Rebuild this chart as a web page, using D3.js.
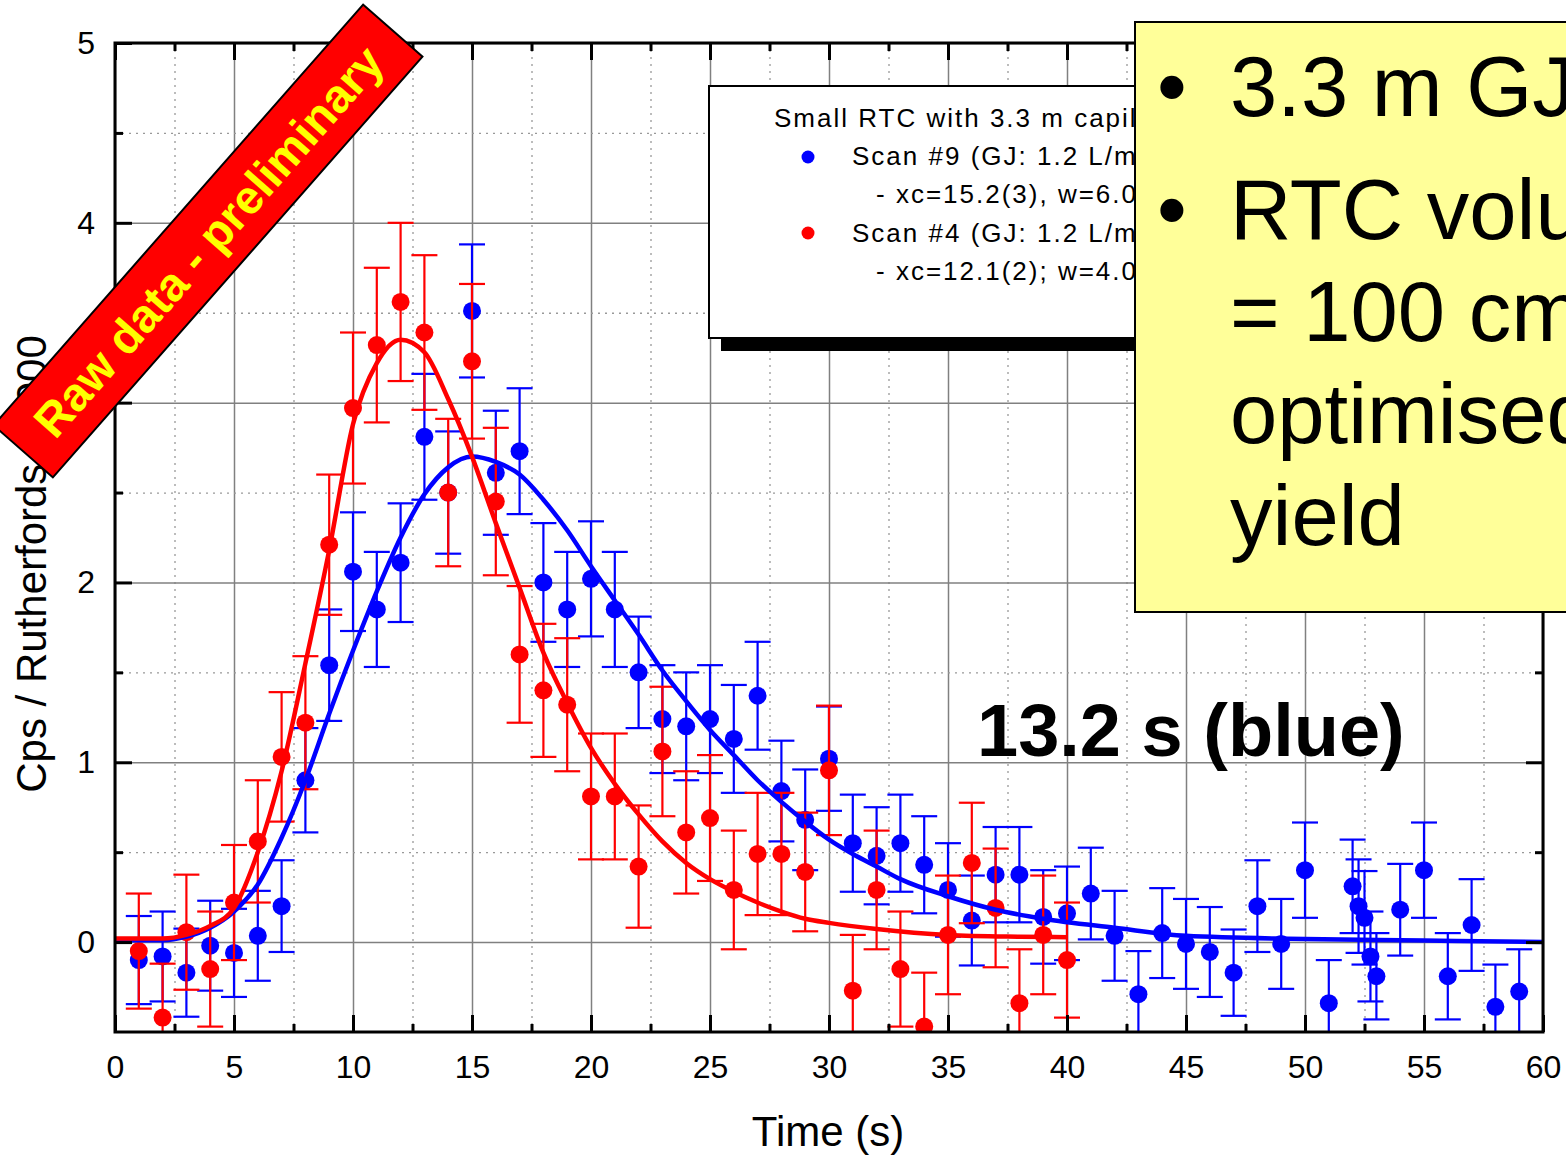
<!DOCTYPE html>
<html>
<head>
<meta charset="utf-8">
<script src="https://cdn.jsdelivr.net/npm/d3@7"></script>
<style>
  body { margin: 0; background: #fff; }
  svg { display: block; font-family: "Liberation Sans", Arial, Helvetica, sans-serif; }
</style>
</head>
<body>
<div id="viz"></div>
<script>
// Scan #9 (blue) - time, counts, error
var blueX = [1,2,3,4,5,6,7,8,9,10,11,12,13,14,15,16,17,18,19,20,21,22,23,24,25,26,27,28,29,30,
  31,32,33,34,35,36,37,38,39,40,41,42,43,44,45,46,47,48,49,50,51,52,52.25,52.5,52.75,53,54,55,56,57,58,59];
var blueY = [-0.10,-0.08,-0.17,-0.02,-0.06,0.035,0.20,0.90,1.54,2.06,1.85,2.11,2.81,2.50,3.51,2.61,2.73,2.00,1.85,2.02,
  1.85,1.50,1.24,1.20,1.24,1.13,1.37,0.84,0.68,1.02,0.55,0.48,0.55,0.43,0.29,0.12,0.375,0.375,0.14,0.16,
  0.27,0.035,-0.29,0.05,-0.01,-0.055,-0.17,0.20,-0.01,0.40,-0.34,0.31,0.20,0.135,-0.08,-0.19,0.18,0.40,-0.19,0.095,-0.36,-0.275];
var blueErr = [0.245,0.25,0.245,0.25,0.245,0.25,0.255,0.29,0.31,0.33,0.32,0.33,0.35,0.34,0.37,0.345,0.35,0.33,0.32,0.32,
  0.32,0.31,0.30,0.30,0.30,0.30,0.30,0.28,0.28,0.29,0.27,0.27,0.27,0.27,0.26,0.25,0.265,0.265,0.26,0.26,
  0.255,0.25,0.24,0.25,0.25,0.25,0.24,0.255,0.25,0.265,0.24,0.26,0.26,0.26,0.25,0.24,0.255,0.265,0.24,0.255,0.235,0.235];

// Scan #4 (red)
var redX = [1,2,3,4,5,6,7,8,9,10,11,12,13,14,15,16,17,18,19,20,21,22,23,24,25,26,27,28,29,30,31,32,33,34,35,36,37,38,39,40];
var redY = [-0.05,-0.42,0.055,-0.15,0.22,0.56,1.03,1.22,2.21,2.97,3.32,3.56,3.39,2.50,3.23,2.45,1.60,1.40,1.32,0.81,
  0.81,0.42,1.06,0.61,0.69,0.29,0.49,0.49,0.39,0.955,-0.27,0.29,-0.15,-0.47,0.04,0.44,0.19,-0.34,0.04,-0.10];
var redErr = [0.32,0.30,0.32,0.32,0.32,0.34,0.36,0.37,0.39,0.42,0.43,0.44,0.43,0.41,0.43,0.41,0.38,0.37,0.37,0.35,
  0.35,0.34,0.36,0.34,0.35,0.33,0.34,0.34,0.33,0.36,0.31,0.33,0.32,0.30,0.33,0.335,0.33,0.30,0.33,0.32];

// fitted curves
var blueFitX = [0,2,3,4,5,6,7,8,9,10,11,12,13,14,15,16,17,18,19,20,21,22,23,24,25,26,27,28,29,30,31,32,33,35,37,39,42,45,50,55,60];
var blueFitY = [0.01,0.01,0.03,0.08,0.17,0.32,0.58,0.90,1.27,1.62,1.95,2.25,2.49,2.64,2.70,2.67,2.60,2.46,2.29,2.09,
  1.90,1.71,1.51,1.34,1.18,1.04,0.90,0.78,0.67,0.57,0.49,0.42,0.35,0.255,0.18,0.13,0.08,0.035,0.017,0.009,0.0];
var redFitX = [0,2,3,4,5,6,7,8,9,10,11,12,13,14,15,16,17,18,19,20,21,22,23,24,25,26,27,28,29,30,32,35,38,40];
var redFitY = [0.02,0.02,0.04,0.09,0.19,0.50,0.95,1.55,2.18,2.88,3.22,3.35,3.28,3.02,2.70,2.33,1.97,1.61,1.33,1.08,
  0.88,0.71,0.56,0.44,0.35,0.28,0.22,0.17,0.13,0.107,0.073,0.04,0.03,0.027];

var xMajor = [0,5,10,15,20,25,30,35,40,45,50,55,60];
var xMinor = [2.5,7.5,12.5,17.5,22.5,27.5,32.5,37.5,42.5,47.5,52.5,57.5];
var yMajor = [0,1,2,3,4,5];
var yMinor = [0.5,1.5,2.5,3.5,4.5];

var legendLines = ["Small RTC with 3.3 m capillary", "Scan #9 (GJ: 1.2 L/min)", "- xc=15.2(3), w=6.0(3)",
  "Scan #4 (GJ: 1.2 L/min)", "- xc=12.1(2); w=4.0(2)"];
var boxLines = ["3.3 m GJ capillary", "RTC volume", "= 100 cm\u00B3 for", "optimised", "yield"];

var width = 1566, height = 1155;
var pLeft = 115, pRight = 1543, pTop = 43, pBottom = 1032;

var x = d3.scaleLinear().domain([0, 60]).range([pLeft, pRight]);
var y = d3.scaleLinear().domain([-0.5, 5]).range([pBottom, pTop]);

var svg = d3.select('#viz').append('svg')
  .attr('width', width)
  .attr('height', height);

svg.append('clipPath').attr('id', 'plotClip')
  .append('rect')
  .attr('x', pLeft).attr('y', pTop)
  .attr('width', pRight - pLeft).attr('height', pBottom - pTop);

// grid
function grid(g, dashed) {
  g.select('.domain').remove();
  g.selectAll('.tick line')
    .attr('stroke', dashed ? '#999' : '#808080')
    .attr('stroke-width', dashed ? 1.3 : 1.5)
    .attr('stroke-dasharray', dashed ? '2,5' : null);
}
svg.append('g').attr('transform', `translate(0,${pBottom})`)
  .call(d3.axisBottom(x).tickValues(xMajor).tickSize(-(pBottom - pTop)).tickFormat(''))
  .call(g => grid(g, false));
svg.append('g').attr('transform', `translate(0,${pBottom})`)
  .call(d3.axisBottom(x).tickValues(xMinor).tickSize(-(pBottom - pTop)).tickFormat(''))
  .call(g => grid(g, true));
svg.append('g').attr('transform', `translate(${pLeft},0)`)
  .call(d3.axisLeft(y).tickValues(yMajor).tickSize(-(pRight - pLeft)).tickFormat(''))
  .call(g => grid(g, false));
svg.append('g').attr('transform', `translate(${pLeft},0)`)
  .call(d3.axisLeft(y).tickValues(yMinor).tickSize(-(pRight - pLeft)).tickFormat(''))
  .call(g => grid(g, true));

var plot = svg.append('g').attr('clip-path', 'url(#plotClip)');

function drawSeries(xs, ys, errs, color) {
  var data = xs.map((d, i) => ({x: d, y: ys[i], e: errs[i]}));
  var g = plot.append('g').attr('stroke', color).attr('stroke-width', 2.2);
  g.selectAll('.bar').data(data).join('line')
    .attr('x1', d => x(d.x)).attr('x2', d => x(d.x))
    .attr('y1', d => y(d.y - d.e)).attr('y2', d => y(d.y + d.e));
  g.selectAll('.capTop').data(data).join('line')
    .attr('x1', d => x(d.x) - 13).attr('x2', d => x(d.x) + 13)
    .attr('y1', d => y(d.y + d.e)).attr('y2', d => y(d.y + d.e));
  g.selectAll('.capBot').data(data).join('line')
    .attr('x1', d => x(d.x) - 13).attr('x2', d => x(d.x) + 13)
    .attr('y1', d => y(d.y - d.e)).attr('y2', d => y(d.y - d.e));
  plot.append('g').selectAll('circle').data(data).join('circle')
    .attr('cx', d => x(d.x)).attr('cy', d => y(d.y))
    .attr('r', 9).attr('fill', color);
}
drawSeries(blueX, blueY, blueErr, '#0000ff');
drawSeries(redX, redY, redErr, '#ff0000');

var line = d3.line().x(d => x(d[0])).y(d => y(d[1])).curve(d3.curveMonotoneX);
plot.append('path')
  .attr('d', line(blueFitX.map((d, i) => [d, blueFitY[i]])))
  .attr('fill', 'none').attr('stroke', '#0000ff').attr('stroke-width', 4.5);
plot.append('path')
  .attr('d', line(redFitX.map((d, i) => [d, redFitY[i]])))
  .attr('fill', 'none').attr('stroke', '#ff0000').attr('stroke-width', 4.5);

// frame and ticks
function ticks(g) {
  g.select('.domain').remove();
  g.selectAll('.tick line').attr('stroke', '#000').attr('stroke-width', 3);
  g.selectAll('.tick text').attr('font-size', 32).attr('fill', '#000')
    .attr('font-family', '"Liberation Sans", Arial, sans-serif');
}
svg.append('g').attr('transform', `translate(0,${pBottom})`)
  .call(d3.axisBottom(x).tickValues(xMajor).tickSize(-17).tickPadding(23).tickFormat(d3.format('d'))).call(ticks);
svg.append('g').attr('transform', `translate(0,${pBottom})`)
  .call(d3.axisBottom(x).tickValues(xMinor).tickSize(-8).tickFormat('')).call(ticks);
svg.append('g').attr('transform', `translate(0,${pTop})`)
  .call(d3.axisTop(x).tickValues(xMajor).tickSize(-17).tickFormat('')).call(ticks);
svg.append('g').attr('transform', `translate(0,${pTop})`)
  .call(d3.axisTop(x).tickValues(xMinor).tickSize(-8).tickFormat('')).call(ticks);
svg.append('g').attr('transform', `translate(${pLeft},0)`)
  .call(d3.axisLeft(y).tickValues(yMajor).tickSize(-17).tickPadding(20).tickFormat(d3.format('d'))).call(ticks);
svg.append('g').attr('transform', `translate(${pLeft},0)`)
  .call(d3.axisLeft(y).tickValues(yMinor).tickSize(-8).tickFormat('')).call(ticks);
svg.append('g').attr('transform', `translate(${pRight},0)`)
  .call(d3.axisRight(y).tickValues(yMajor).tickSize(-17).tickFormat('')).call(ticks);
svg.append('g').attr('transform', `translate(${pRight},0)`)
  .call(d3.axisRight(y).tickValues(yMinor).tickSize(-8).tickFormat('')).call(ticks);

svg.append('rect')
  .attr('x', pLeft).attr('y', pTop)
  .attr('width', pRight - pLeft).attr('height', pBottom - pTop)
  .attr('fill', 'none').attr('stroke', '#000').attr('stroke-width', 3);

// axis titles
svg.append('text')
  .attr('x', (pLeft + pRight) / 2 - 1).attr('y', 1146)
  .attr('text-anchor', 'middle').attr('font-size', 42)
  .text('Time (s)');
svg.append('text')
  .attr('transform', 'translate(46,564) rotate(-90)')
  .attr('text-anchor', 'middle').attr('font-size', 42)
  .text('Cps / Rutherfords / 1000');

// legend
var leg = svg.append('g');
leg.append('rect').attr('x', 721).attr('y', 98).attr('width', 560).attr('height', 253).attr('fill', '#000');
leg.append('rect').attr('x', 709).attr('y', 86).attr('width', 560).attr('height', 252)
  .attr('fill', '#fff').attr('stroke', '#000').attr('stroke-width', 2);
var legX = [774, 852, 876, 852, 876];
var legY = [127, 165, 203, 242, 280];
leg.selectAll('text').data(legendLines).join('text')
  .attr('x', (d, i) => legX[i]).attr('y', (d, i) => legY[i])
  .attr('font-size', 26).attr('letter-spacing', 2)
  .text(d => d);
leg.append('circle').attr('cx', 808).attr('cy', 157).attr('r', 6.5).attr('fill', '#0000ff');
leg.append('circle').attr('cx', 808).attr('cy', 233).attr('r', 6.5).attr('fill', '#ff0000');

// annotation
svg.append('text')
  .attr('x', 977).attr('y', 756)
  .attr('font-size', 74).attr('font-weight', 'bold')
  .text('13.2 s (blue)');

// yellow note box
var note = svg.append('g');
note.append('rect').attr('x', 1135).attr('y', 22).attr('width', 460).attr('height', 590)
  .attr('fill', '#ffff99').attr('stroke', '#000').attr('stroke-width', 2);
var noteY = [116, 239, 341, 443, 545];
note.selectAll('.ln').data(boxLines).join('text')
  .attr('x', 1230).attr('y', (d, i) => noteY[i])
  .attr('font-size', 85)
  .text(d => d);
note.selectAll('.bul').data([0, 1]).join('text')
  .attr('x', 1157).attr('y', d => noteY[d])
  .attr('font-size', 85)
  .text('\u2022');

// banner
var banner = svg.append('g').attr('transform', 'translate(208,241) rotate(-48.7)');
banner.append('rect').attr('x', -280).attr('y', -39.5).attr('width', 560).attr('height', 79)
  .attr('fill', '#ff0000').attr('stroke', '#000').attr('stroke-width', 2);
banner.append('text')
  .attr('x', 0).attr('y', 17)
  .attr('text-anchor', 'middle')
  .attr('font-size', 47).attr('font-weight', 'bold').attr('fill', '#ffff00')
  .text('Raw data - preliminary');
</script>
</body>
</html>
